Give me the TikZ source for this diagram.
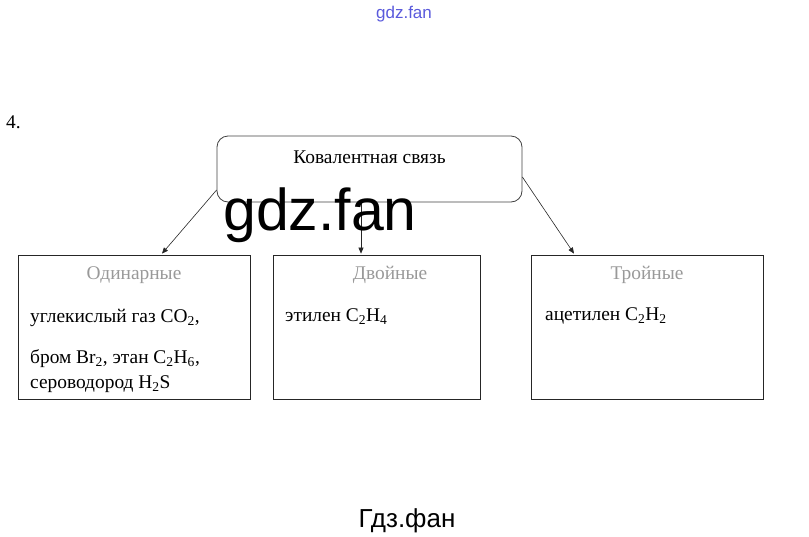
\documentclass[tikz,border=0pt]{standalone}
\usepackage{fontspec}
\setmainfont{Liberation Serif}
\newfontfamily\wmfont{Liberation Sans}
\usetikzlibrary{arrows.meta}
\begin{document}
\begin{tikzpicture}[x=1pt,y=-1pt,
  font=\fontsize{19.4}{25}\selectfont,
  box/.style={draw=black!85, line width=0.8pt, minimum height=144pt, inner sep=0pt},
  topbox/.style={draw=black!75, line width=0.8pt, rounded corners=11pt, minimum width=305pt, minimum height=66pt, inner sep=0pt},
  title/.style={anchor=base, inner sep=0pt, text=black!40},
  body/.style={anchor=base west, inner sep=0pt, align=left},
  arr/.style={-{Triangle[length=6pt,width=5pt]}, line width=0.6pt, draw=black!85}]
\useasboundingbox (0,0) rectangle (809,536);
% watermarks
\node[anchor=base, inner sep=0pt, text={rgb,255:red,90;green,90;blue,220}, font=\wmfont\fontsize{17}{20}\selectfont] (wm1) at (404,18) {gdz.fan};
\node[anchor=base west, inner sep=0pt] (num) at (6,128) {4.};
% boxes
\node[topbox] (top) at (369.5,169) {};
\node[anchor=base, inner sep=0pt] (toptxt) at (369.5,163) {Ковалентная связь};
\node[box, minimum width=232pt] (left) at (134,327) {};
\node[box, minimum width=207pt] (mid) at (376.5,327) {};
\node[box, minimum width=232pt] (right) at (647,327) {};
% titles
\node[title] (t1) at (134,279) {Одинарные};
\node[title] (t2) at (390,279) {Двойные};
\node[title] (t3) at (647,279) {Тройные};
% contents
\node[body] (l1) at (30,322) {углекислый газ CO\textsubscript{2},};
\node[body] (l2) at (30,388) {бром Br\textsubscript{2}, этан C\textsubscript{2}H\textsubscript{6},\\сероводород H\textsubscript{2}S};
\node[body] (m1) at (285,321) {этилен C\textsubscript{2}H\textsubscript{4}};
\node[body] (r1) at (545,320) {ацетилен C\textsubscript{2}H\textsubscript{2}};
% arrows
\draw[arr] ([yshift=-21pt]top.west) -- ([xshift=28pt,yshift=1pt]left.north);
\draw[arr] ([xshift=-8.5pt]top.south) -- ([xshift=-15.5pt,yshift=1pt]mid.north);
\draw[arr] ([yshift=-8pt]top.east) -- ([xshift=-73pt,yshift=1pt]right.north);
% big watermark
\node[anchor=base, inner sep=0pt, font=\wmfont\fontsize{59}{60}\selectfont] (wm2) at (320,230) {gdz.fan};
\node[anchor=base, inner sep=0pt, font=\wmfont\fontsize{26}{30}\selectfont] (wm3) at (407,527) {Гдз.фан};
\end{tikzpicture}
\end{document}
